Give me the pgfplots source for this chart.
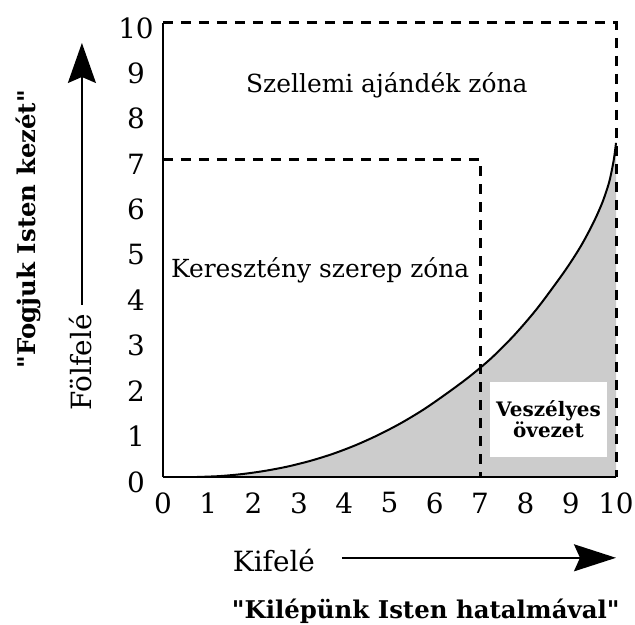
\documentclass[border=0pt]{standalone}
\usepackage{fontspec}
\setmainfont{DejaVu Serif}
\newfontfamily\qfont{DejaVu Serif}[Ligatures=TeXOff]
\usepackage{pgfplots}
\pgfplotsset{compat=1.18}
\usetikzlibrary{arrows.meta}
\definecolor{zonegray}{RGB}{204,204,204}
\pgfplotstableread{
x y
0.75 0
1.25 0.02
1.75 0.065
2.25 0.135
2.75 0.23
3.25 0.355
3.75 0.51
4.25 0.70
4.75 0.925
5.25 1.185
5.75 1.485
6.25 1.83
6.75 2.2
7.25 2.62
7.75 3.12
8.25 3.7
8.75 4.37
9.0 4.73
9.25 5.13
9.5 5.6
9.7 6.05
9.85 6.5
9.95 6.98
10 7.36
}\curvedata
\begin{document}
\begin{tikzpicture}
\begin{axis}[
  scale only axis, width=453bp, height=454bp,
  xmin=0, xmax=10, ymin=0, ymax=10,
  axis lines=left, axis line style={-, line width=2.2bp},
  clip=false, axis on top,
  xtick={0,...,10}, ytick={0,...,10},
  major tick length=0pt,
  /pgf/number format/assume math mode=true,
  tick label style={font=\fontsize{28}{30}\selectfont},
  xticklabel style={anchor=center, yshift=-26bp},
  yticklabel style={anchor=center, xshift=-27bp, yshift=-5bp},
]
\addplot[fill=zonegray, draw=none, smooth] table[x=x, y=y] {\curvedata} \closedcycle;
\addplot[black, line width=2bp, smooth] table[x=x, y=y] {\curvedata};
\node[fill=white, minimum width=117bp, minimum height=75bp, inner sep=0pt, align=center,
  font=\bfseries\fontsize{20}{21}\selectfont] at (axis cs:8.51,1.27) {Veszélyes\\övezet};
\draw[line width=3bp, dash pattern=on 10bp off 8bp] (axis cs:0,10) -- (axis cs:10,10) -- (axis cs:10,0);
\draw[line width=3bp, dash pattern=on 10bp off 8bp] (axis cs:0,7) -- (axis cs:7,7) -- (axis cs:7,0);
\node[font=\fontsize{25}{28}\selectfont] at (axis cs:4.94,8.63) {Szellemi ajándék zóna};
\node[font=\fontsize{25}{28}\selectfont] at (axis cs:3.47,4.56) {Keresztény szerep zóna};
\node[font=\fontsize{28}{32}\selectfont] at (axis cs:2.45,-1.83) {Kifelé};
\draw[line width=1.8bp, -{Stealth[length=42bp, width=27bp, inset=6bp]}] (axis cs:3.95,-1.78) -- (axis cs:10,-1.78);
\node[rotate=90, font=\fontsize{28}{32}\selectfont] at (axis cs:-1.83,2.53) {Fölfelé};
\draw[line width=1.8bp, -{Stealth[length=40bp, width=28bp, inset=6bp]}] (axis cs:-1.79,3.79) -- (axis cs:-1.79,9.56);
\node[font=\qfont\bfseries\fontsize{24.5}{26}\selectfont] at (axis cs:5.8,-2.95) {"Kilépünk Isten hatalmával"};
\node[rotate=90, font=\qfont\bfseries\fontsize{24.5}{26}\selectfont] at (axis cs:-2.98,5.46) {"Fogjuk Isten kezét"};
\coordinate (O) at (axis cs:0,0);
\end{axis}
\pgfresetboundingbox
\useasboundingbox (O) ++(-163bp,-148bp) rectangle ++(635bp,625bp);
\end{tikzpicture}
\end{document}
